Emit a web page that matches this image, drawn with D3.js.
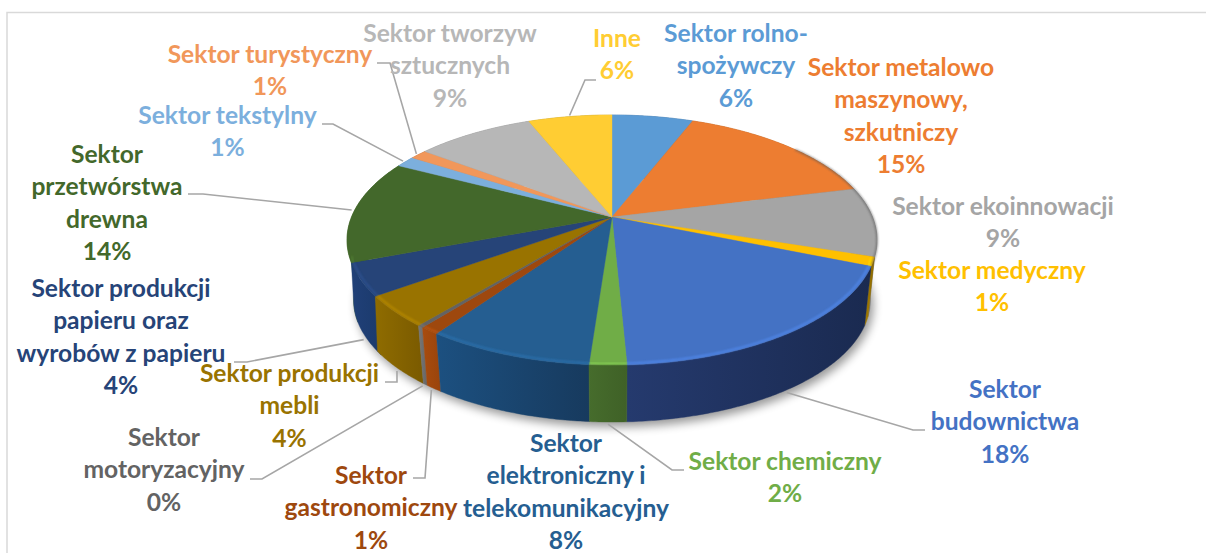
<!DOCTYPE html>
<html><head><meta charset="utf-8">
<script src="https://cdnjs.cloudflare.com/ajax/libs/d3/7.8.5/d3.min.js"></script>
<style>html,body{margin:0;padding:0;background:#fff;overflow:hidden}svg{display:block}</style>
</head><body><svg id="c" width="1206" height="553"></svg>
<script>
// --- data ---
const categories = ["Sektor rolno-spożywczy","Sektor metalowo maszynowy, szkutniczy","Sektor ekoinnowacji","Sektor medyczny","Sektor budownictwa","Sektor chemiczny","Sektor elektroniczny i telekomunikacyjny","Sektor gastronomiczny","Sektor motoryzacyjny","Sektor produkcji mebli","Sektor produkcji papieru oraz wyrobów z papieru","Sektor przetwórstwa drewna","Sektor tekstylny","Sektor turystyczny","Sektor tworzyw sztucznych","Inne"];
const values = [5.9,15.2,8.95,1.15,18.05,1.9,8.55,1.0,0.3,4.05,4.2,13.35,1.45,1.25,8.6,6.1];
const percentLabels = ["6%","15%","9%","1%","18%","2%","8%","1%","0%","4%","4%","14%","1%","1%","9%","6%"];
const labelLines = [["Sektor rolno-","spożywczy"],["Sektor metalowo","maszynowy,","szkutniczy"],["Sektor ekoinnowacji"],["Sektor medyczny"],["Sektor","budownictwa"],["Sektor chemiczny"],["Sektor","elektroniczny i","telekomunikacyjny"],["Sektor","gastronomiczny"],["Sektor","motoryzacyjny"],["Sektor produkcji","mebli"],["Sektor produkcji","papieru oraz","wyrobów z papieru"],["Sektor","przetwórstwa","drewna"],["Sektor tekstylny"],["Sektor turystyczny"],["Sektor tworzyw","sztucznych"],["Inne"]];

// --- style & layout ---
const colors = ["#5B9BD5","#ED7D31","#A5A5A5","#FFC000","#4472C4","#70AD47","#255E91","#9E480E","#636363","#997300","#264478","#43682B","#7CAFDD","#F1975A","#B7B7B7","#FFCD33"];
const sideLeft  = ["#3d6d99","#a85820","#777","#a67d00","#253a6e","#466c2c","#1c5080","#a84c0e","#777","#8f6c00","#204078","#44692b","#5a85a8","#b06a3a","#888","#b09020"];
const sideRight = ["#3d6d99","#a85820","#777","#8a6800","#1a2a50","#3f6127","#173a5e","#9a440c","#666","#7a5a00","#1b3a6c","#3f6326","#5a85a8","#b06a3a","#888","#b09020"];
const sideExtend = {9:0.03,10:0.14};
const labelX = [736,901,1003,992,1005,785,566,371,164,289.5,121,107,227.5,270,450,617];
const labelY = [42,76,215,279,398,470,452,484,446,382,297,163,124,63,42,47];
const lineStep = 32.4;
// leader: [start x, elbow x, elbow y, plane of the pie it ends on]
const leaders = {15:[596,585,80,0],13:[377,390,63,0],12:[322,333,124,0],11:[188,203,194,0],10:[234,247,362,1],9:[385,397,382,1],8:[250,262,479,1],7:[413,425,478,1],5:[684,672,470,1],4:[925,913,430,1]};
const fontSize = 24.6;
// projection of the pie (perspective disc)
const apex = [612,217], A = 260.5, B = 120.8, K = 0.184, S = 0.975, DY = 60.7;
const project = (t, r, plane) => {
  const u = r*Math.sin(t), v = -r*Math.cos(t), w = 1-K*v, s = plane ? S : 1;
  return [apex[0]+s*A*u/w, apex[1]+(plane?DY:0)+s*B*v/w];
};
const svg = d3.select("#c");
const defs = svg.append("defs");
defs.append("filter").attr("id","sh").attr("x","-20%").attr("y","-20%").attr("width","140%").attr("height","140%").append("feGaussianBlur").attr("stdDeviation",5);
defs.append("filter").attr("id","bl").attr("x","-10%").attr("y","-50%").attr("width","120%").attr("height","200%").append("feGaussianBlur").attr("stdDeviation",0.9);

const arcs = d3.pie().sort(null).value(d=>d)(values);
const color = d3.scaleOrdinal().domain(d3.range(values.length)).range(colors);
const line = d3.line();
const arcPts = (a0,a1,plane,r=1) => { const n=Math.max(2,Math.ceil((a1-a0)/0.01)); return d3.range(n+1).map(i=>project(a0+(a1-a0)*i/n,r,plane)); };

// frame
svg.append("path").attr("d",line([[7,553],[7,12.5],[1206,12.5]])).attr("fill","none").attr("stroke","#d9d9d9").attr("stroke-width",1.5);

// shadow
svg.append("path").attr("d",line(arcPts(0,2*Math.PI,1)).concat("Z")).attr("transform","translate(3,5)").attr("fill","#000").attr("opacity",.4).attr("filter","url(#sh)");

// sides
const order = arcs.map((d,i)=>i).sort((a,b)=>-Math.cos((arcs[a].startAngle+arcs[a].endAngle)/2)+Math.cos((arcs[b].startAngle+arcs[b].endAngle)/2));
order.forEach(i=>{
  const d=arcs[i], top=arcPts(d.startAngle,d.endAngle,0), bot=arcPts(d.startAngle,d.endAngle+(sideExtend[i]||0),1).reverse();
  const xs=top.concat(bot).map(p=>p[0]);
  const g=defs.append("linearGradient").attr("id","g"+i).attr("gradientUnits","userSpaceOnUse").attr("x1",d3.min(xs)).attr("x2",d3.max(xs)).attr("y1",0).attr("y2",0);
  g.append("stop").attr("offset",0).attr("stop-color",sideLeft[i]);
  g.append("stop").attr("offset",1).attr("stop-color",sideRight[i]);
  svg.append("path").attr("d",line(top.concat(bot))+"Z").attr("fill",`url(#g${i})`).attr("stroke",`url(#g${i})`).attr("stroke-width",.4);
});

// top faces
arcs.forEach((d,i)=>{
  svg.append("path").attr("d",line([apex].concat(arcPts(d.startAngle,d.endAngle,0)))+"Z").attr("fill",color(i)).attr("stroke",color(i)).attr("stroke-width",.4);
});
// bevel highlight on the front rim
arcs.forEach((d,i)=>{
  const a0=Math.max(d.startAngle,1.9), a1=Math.min(d.endAngle,4.4);
  if(a1<=a0) return;
  svg.append("path").attr("d",line(arcPts(a0,a1,0,0.992))).attr("fill","none").attr("stroke",d3.color(color(i)).brighter(.7)).attr("stroke-width",1.6).attr("filter","url(#bl)").attr("opacity",.8);
});
// rim darkening on the back-right edge
svg.append("path").attr("d",line(arcPts(0.9,1.95,0,1))).attr("fill","none").attr("stroke","#555").attr("stroke-width",1.5).attr("filter","url(#bl)").attr("opacity",.75);

// leaders
Object.keys(leaders).forEach(k=>{
  const i=+k, [x0,xe,ye,plane]=leaders[k], d=arcs[i], m=(d.startAngle+d.endAngle)/2;
  svg.append("path").attr("d",line([[x0,ye],[xe,ye],project(m,1.012,plane)])).attr("fill","none").attr("stroke","#a6a6a6").attr("stroke-width",1.6);
});

// labels
categories.forEach((c,i)=>{
  const t=svg.append("text").attr("text-anchor","middle").attr("font-family","Lato, 'Open Sans', sans-serif").attr("font-weight",700).attr("font-size",fontSize).attr("fill",color(i));
  labelLines[i].concat(percentLabels[i]).forEach((s,j)=>{
    t.append("tspan").attr("x",labelX[i]).attr("y",labelY[i]+j*lineStep).text(s);
  });
});
</script></body></html>
